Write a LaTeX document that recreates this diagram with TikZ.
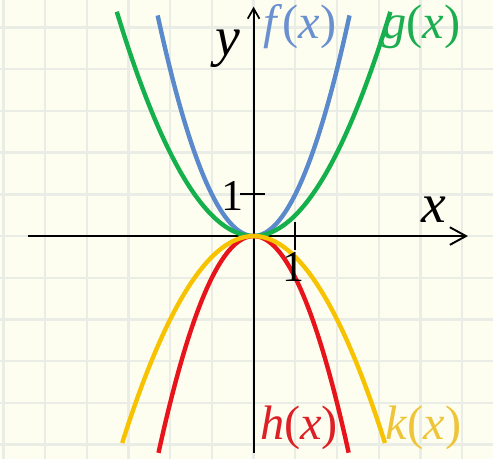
\documentclass[tikz,border=0pt]{standalone}
\usepackage{fontspec}
\setmainfont{Liberation Serif}
\usepackage{tikz}
\usetikzlibrary{arrows.meta}
\definecolor{paper}{HTML}{FEFEF0}
\definecolor{gridgray}{HTML}{EAECE6}
\definecolor{fblue}{HTML}{5A89CC}
\definecolor{ggreen}{HTML}{14B04C}
\definecolor{hred}{HTML}{E8141C}
\definecolor{kyellow}{HTML}{F7C200}
\definecolor{flabel}{HTML}{6A90D0}
\definecolor{glabel}{HTML}{1AAE50}
\definecolor{hlabel}{HTML}{DD1F26}
\definecolor{klabel}{HTML}{EEC53A}

\begin{document}
\begin{tikzpicture}[
  gridline/.style={draw=gridgray, line width=1.6pt},
  axis/.style={line width=1.3pt, color=black},
  tick/.style={line width=1.3pt, color=black},
  curve/.style={line width=3pt, smooth, samples=80},
  fnlabel/.style={inner sep=0pt, font=\fontsize{33}{33}\selectfont},
  axlabel/.style={inner sep=0pt, font=\fontsize{38}{38}\selectfont\itshape},
  numlabel/.style={inner sep=0pt, font=\fontsize{30}{30}\selectfont},
]
\useasboundingbox (-6.08,-5.35) rectangle (5.74,5.66);
\fill[paper] (-6.08,-5.35) rectangle (5.74,5.66);
\draw[gridline] (-6.08,-5.35) grid (5.74,5.66);
% axes
\draw[axis, -{Straight Barb[length=11pt,width=12pt,line width=1.3pt]}] (-5.41,0) -- (5.14,0);
\draw[axis, -{Straight Barb[length=7pt,width=8pt,line width=1.2pt]}] (0,-5.2) -- (0,5.5);
\draw[tick] (-0.32,1) -- (0.28,1);
\draw[tick] (1,0.34) -- (1,-0.34);
% curves
\draw[curve, fblue]   plot[domain=-2.3:2.3]   (\x,{\x*\x});
\draw[curve, ggreen]  plot[domain=-3.28:3.28] (\x,{\x*\x/2});
\draw[curve, hred]    plot[domain=-2.28:2.28] (\x,{-\x*\x});
\draw[curve, kyellow] plot[domain=-3.15:3.15] (\x,{-\x*\x/2});
% labels
\node[axlabel] (ylab) at (-0.61,4.5) {y};
\node[axlabel] (xlab) at (4.33,0.62) {x};
\node[numlabel] (yone) at (-0.5,0.97) {1};
\node[numlabel] (xone) at (0.95,-0.75) {1};
\node[fnlabel, text=flabel] (flab) at (1.11,5.02) {\textit{f}(\textit{x})};
\node[fnlabel, text=glabel] (glab) at (4.02,5.02) {\textit{g}(\textit{x})};
\node[fnlabel, text=hlabel] (hlab) at (1.09,-4.6) {\textit{h}(\textit{x})};
\node[fnlabel, text=klabel] (klab) at (4.07,-4.6) {\textit{k}(\textit{x})};
\end{tikzpicture}
\end{document}
